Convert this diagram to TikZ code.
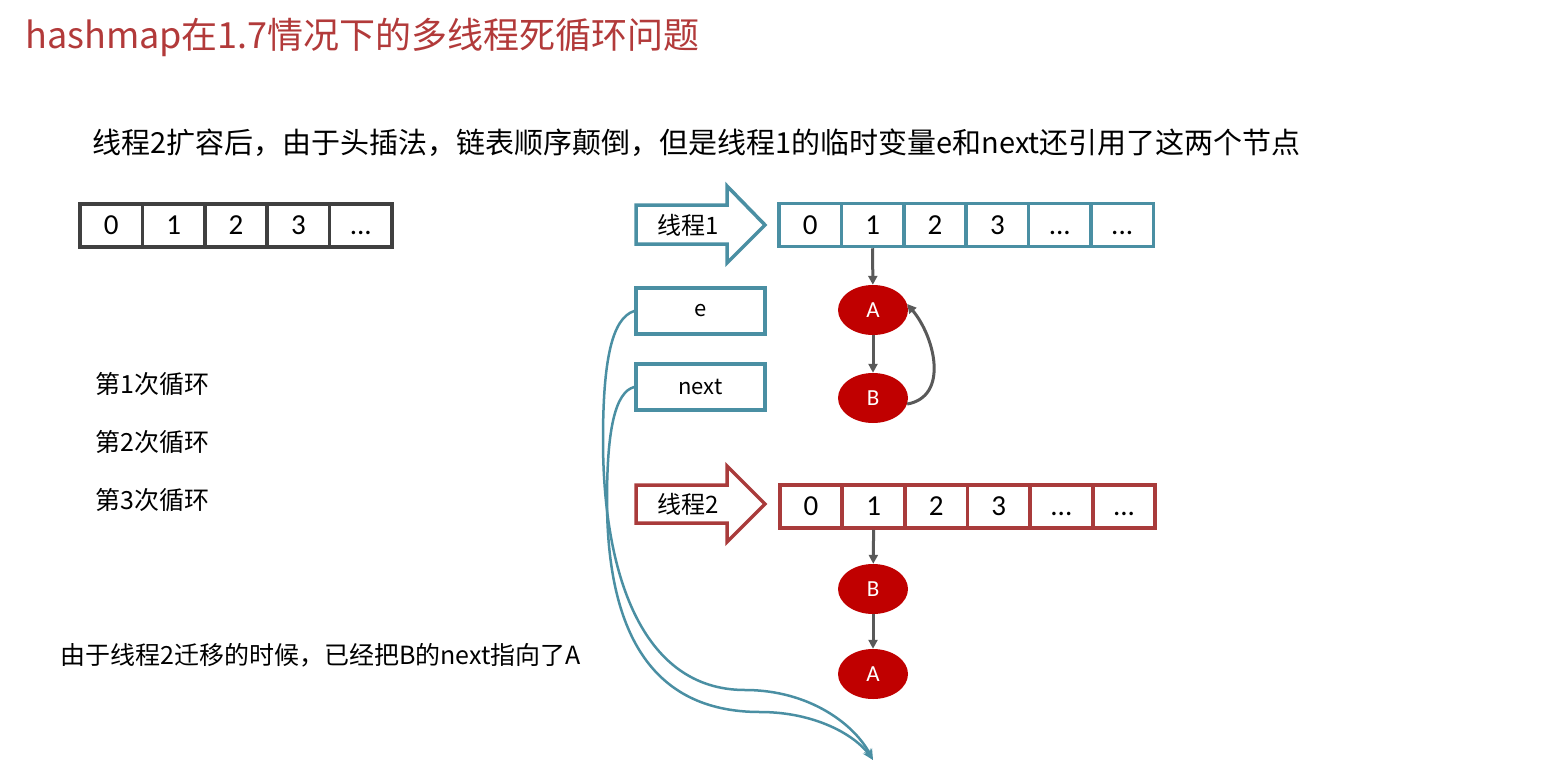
\documentclass[tikz,border=0pt]{standalone}
\usepackage{fontspec}
\setmainfont{Noto Sans CJK SC}
\newfontfamily\cellfont{Carlito}
\usetikzlibrary{shapes.geometric,arrows.meta}
\definecolor{titlered}{HTML}{B23A3A}
\definecolor{threadteal}{HTML}{4A8FA3}
\definecolor{threadred}{HTML}{A93B3B}
\definecolor{nodered}{HTML}{C00000}
\definecolor{linkgray}{HTML}{595959}
\newcommand{\dts}{...}
\newcommand{\fsz}[1]{\fontsize{#1}{#1}\selectfont}
\tikzset{
	cell/.style={draw,line width=3.5pt,minimum width=62.4pt,minimum height=43pt,inner sep=0pt,text height=18.5pt,text depth=0pt,font=\cellfont\fsz{29}},
	elem/.style={ellipse,fill=nodered,text=white,minimum width=70pt,minimum height=50pt,inner sep=0pt,font=\cellfont\fsz{23}},
	link/.style={-{Triangle[length=9pt,width=9pt]},draw=linkgray,line width=3pt},
	varbox/.style={draw=threadteal,line width=3.5pt,minimum width=129pt,minimum height=46pt,inner sep=0pt,font=\fsz{22}},
	track/.style={-{Stealth[length=11pt,width=9pt]},draw=threadteal,line width=2.5pt},
	note/.style={anchor=west,inner sep=0pt,font=\fsz{25}}
}
\begin{document}
\begin{tikzpicture}[x=1pt,y=-1pt]
		\useasboundingbox [fill=white](0,0) rectangle (1568,768);
		\node [anchor=west,inner sep=0pt,text=titlered,font=\fsz{36}] (title) at (25,37) {hashmap在1.7情况下的多线程死循环问题};
		\node [anchor=west,inner sep=0pt,font=\fsz{29}] (sub) at (92,143) {线程2扩容后，由于头插法，链表顺序颠倒，但是线程1的临时变量e和next还引用了这两个节点};
		
		% old table
		\foreach \t [count=\i from 0] in {0,1,2,3,\dts}
			\node [cell,draw=black!75] (l\i) at (111.2+62.4*\i,225.5) {\t};
		
		% thread 1
		\draw [draw=threadteal,line width=3.5pt,fill=white](636,205)--(727,205)--(727,186)--(765,225)--(727,263)--(727,244)--(636,244)--cycle;
		\node [font=\fsz{24}] (th1) at (688,225) {线程1};
		\foreach \t [count=\i from 0] in {0,1,2,3,\dts,\dts}
			\node [cell,draw=threadteal] (p\i) at (810.2+62.4*\i,225) {\t};
		\node [elem] (A1) at (873,310) {A};
		\node [elem] (B1) at (873,398) {B};
		\draw [link](p1.south)--(A1);
		\draw [link](A1)--(B1);
		\draw [link](B1.-10) to[out=10,in=-50,looseness=1.1] (A1.10);
		
		% e and next
		\node [varbox] (e) at (700.5,311) {e};
		\node [varbox] (next) at (700.5,387) {next};
		\coordinate (tip) at (873,760);
		\draw [track](e.west) .. controls (612,318) and (603,360) .. (603,440) .. controls (603,570) and (640,690) .. (745,690) .. controls (810,690) and (855,725) .. (tip);
		\draw [track](next.west) .. controls (615,392) and (607,430) .. (607,500) .. controls (607,630) and (650,712) .. (760,712) .. controls (815,712) and (855,735) .. (tip);
		
		% thread 2
		\draw [draw=threadred,line width=3.5pt,fill=white](636,485)--(727,485)--(727,466)--(765,504)--(727,542)--(727,523)--(636,523)--cycle;
		\node [font=\fsz{24}] (th2) at (688,504) {线程2};
		\foreach \t [count=\i from 0] in {0,1,2,3,\dts,\dts}
			\node [cell,draw=threadred] (q\i) at (811+62.6*\i,506.5) {\t};
		\node [elem] (B2) at (873,589) {B};
		\node [elem] (A2) at (873,674) {A};
		\draw [link](q1.south)--(B2);
		\draw [link](B2)--(A2);
		
		% loops
		\node [note] (r1) at (95,384) {第1次循环};
		\node [note] (r2) at (95,442) {第2次循环};
		\node [note] (r3) at (95,500) {第3次循环};
		\node [note] (why) at (60,655) {由于线程2迁移的时候，已经把B的next指向了A};
		
		\end{tikzpicture}
\end{document}
